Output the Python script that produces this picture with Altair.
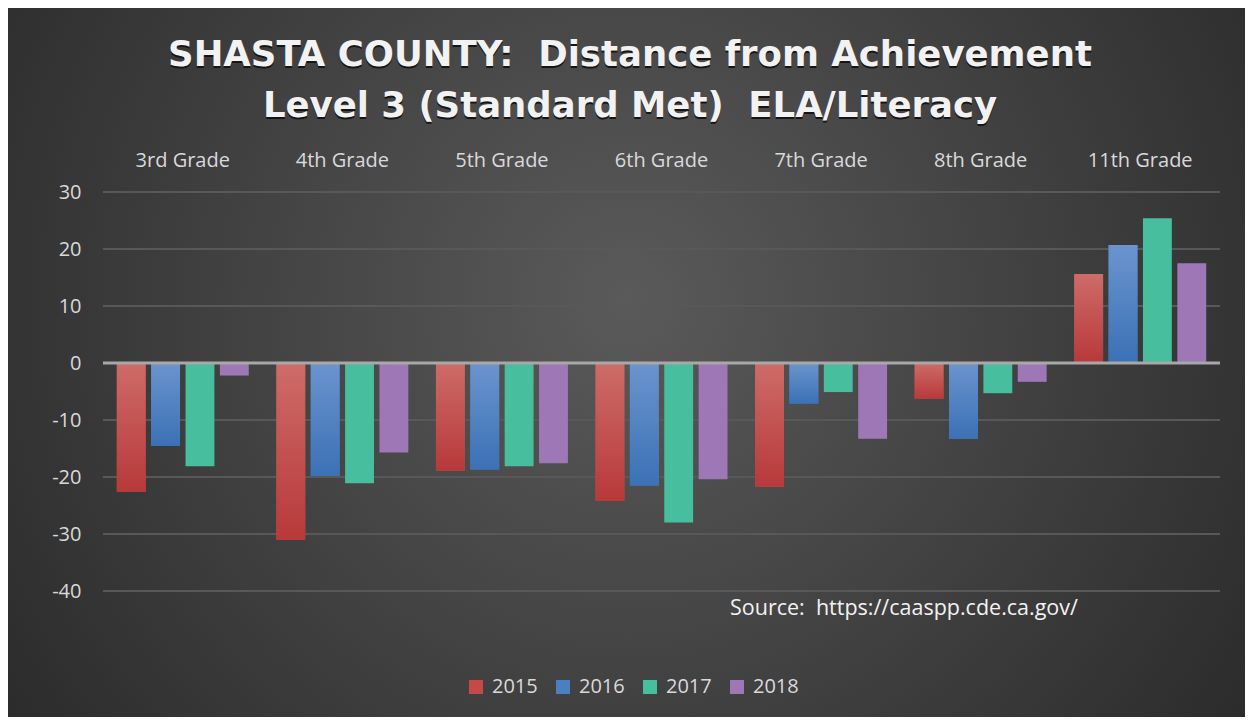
import altair as alt
import pandas as pd

grades = ["3rd Grade", "4th Grade", "5th Grade", "6th Grade", "7th Grade", "8th Grade", "11th Grade"]
years = ["2015", "2016", "2017", "2018"]
v2015 = [-22.6, -31.0, -18.9, -24.2, -21.7, -6.3, 15.6]
v2016 = [-14.5, -19.8, -18.7, -21.5, -7.1, -13.3, 20.7]
v2017 = [-18.1, -21.1, -18.1, -28.0, -5.1, -5.3, 25.4]
v2018 = [-2.2, -15.7, -17.6, -20.4, -13.3, -3.3, 17.5]
colors = ["#c44a48", "#4a7fc1", "#47bf9f", "#9e78b6"]
y_ticks = [-40, -30, -20, -10, 0, 10, 20, 30]
title_line1 = "SHASTA COUNTY:\u00a0 Distance from Achievement"
title_line2 = "Level 3 (Standard Met)\u00a0 ELA/Literacy"
source_text = ["Source:\u00a0 https://caaspp.cde.ca.gov/"]

FONT = "Open Sans"
TITLE_FONT = "DejaVu Sans"
W, H = 1117, 399
PAD = {"left": 95, "top": 184, "right": 25, "bottom": 126}

rows = []
for yr, vals in zip(years, [v2015, v2016, v2017, v2018]):
    for g, v in zip(grades, vals):
        rows.append({"grade": g, "year": yr, "value": v})
df = pd.DataFrame(rows)

y_axis = alt.Axis(values=y_ticks, grid=False, domain=False, ticks=False, tickSize=0,
                  labelFontSize=20, labelFont=FONT, labelColor="#d9d9d9",
                  labelExpr="datum.value + ''",
                  labelPadding=22, title=None, zindex=1)
y_scale = alt.Scale(domain=[-40, 30], nice=False, zero=False)
x_enc = alt.X("grade:N", sort=grades,
              scale=alt.Scale(paddingInner=0.173, paddingOuter=0.0865),
              axis=alt.Axis(orient="top", domain=False, ticks=False, tickSize=0, grid=False,
                            labelFontSize=20, labelFont=FONT, labelColor="#d9d9d9",
                            labelPadding=22, labelAngle=0, title=None, zindex=1))
xo_enc = alt.XOffset("year:N", sort=years, scale=alt.Scale(paddingInner=0.16, paddingOuter=0))

bg = alt.Chart(pd.DataFrame({"a": [0]})).mark_rect(
    fill={"gradient": "radial", "x1": 0.5, "y1": 0.45, "r1": 0,
          "x2": 0.5, "y2": 0.45, "r2": 0.7,
          "stops": [{"offset": 0, "color": "#5a5a5a"}, {"offset": 1, "color": "#242424"}]}
).encode(x=alt.value(-PAD["left"]), x2=alt.value(W + PAD["right"]),
         y=alt.value(-PAD["top"]), y2=alt.value(H + PAD["bottom"]))

grid = alt.Chart(pd.DataFrame({"value": y_ticks})).mark_rule(
    color="#585858", strokeWidth=2
).encode(y=alt.Y("value:Q", scale=y_scale, axis=y_axis))

bars = alt.Chart(df).mark_bar().encode(
    x=x_enc, xOffset=xo_enc,
    y=alt.Y("value:Q", scale=y_scale, axis=y_axis),
    color=alt.Color("year:N", sort=years,
                    scale=alt.Scale(domain=years, range=colors),
                    legend=alt.Legend(orient="none", direction="horizontal",
                                      legendX=363, legendY=485, title=None,
                                      symbolType="square", symbolSize=196,
                                      symbolStrokeWidth=0,
                                      labelFontSize=20, labelFont=FONT, labelColor="#d9d9d9",
                                      labelOffset=6, columnPadding=15, zindex=1)),
)

def grad_layer(yr, top, bottom):
    return alt.Chart(df).transform_filter(alt.datum.year == yr).mark_bar(
        fill={"gradient": "linear", "x1": 0, "y1": 0, "x2": 0, "y2": 1,
              "stops": [{"offset": 0, "color": top}, {"offset": 1, "color": bottom}]}
    ).encode(x=x_enc, xOffset=xo_enc, y=alt.Y("value:Q", scale=y_scale, axis=y_axis))

g2015 = grad_layer("2015", "#cd6c68", "#b8393a")
g2016 = grad_layer("2016", "#6b94cd", "#3b71b6")

zero = alt.Chart(pd.DataFrame({"value": [0]})).mark_rule(
    color="#a8a8a8", strokeWidth=3
).encode(y=alt.Y("value:Q", scale=y_scale, axis=y_axis))

src = alt.Chart(pd.DataFrame({"s": source_text})).mark_text(
    align="left", baseline="middle", fontSize=21.5, font=FONT, color="#f2f2f2"
).encode(x=alt.value(627), y=alt.value(417), text="s:N")

def title_layer(line, ypos, color="#f2f2f2"):
    return alt.Chart(pd.DataFrame({"t": [line]})).mark_text(
        align="center", baseline="middle", fontSize=35.5, font=TITLE_FONT, fontWeight="bold",
        color=color
    ).encode(x=alt.value(527), y=alt.value(ypos), text="t:N")

t1s = title_layer(title_line1, -135, "#151515")
t2s = title_layer(title_line2, -84, "#151515")
t1 = title_layer(title_line1, -137)
t2 = title_layer(title_line2, -86)

chart = alt.layer(bg, grid, bars, g2015, g2016, zero, src, t1s, t2s, t1, t2).properties(
    width=W, height=H, padding=PAD,
    autosize=alt.AutoSizeParams(type="none"),
    background="#262626",
).configure_view(stroke=None)

chart.save("out.html", embed_options={"renderer": "svg", "actions": False})
